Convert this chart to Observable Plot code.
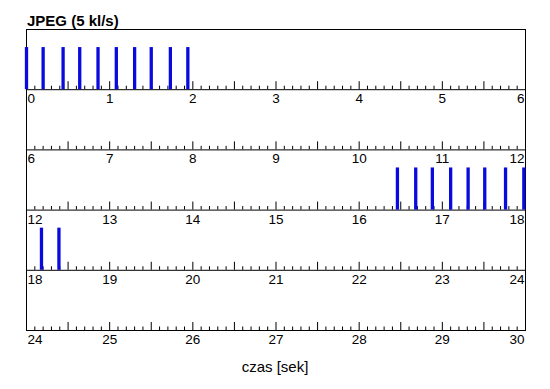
<!DOCTYPE html>
<html><head><meta charset="utf-8">
<script src="https://cdn.jsdelivr.net/npm/d3@7"></script>
<script src="https://cdn.jsdelivr.net/npm/@observablehq/plot@0.6"></script>
<style>
body{margin:0;background:#fff;}
#chart{width:550px;font-family:"Liberation Sans",Arial,sans-serif;color:#000;}
.title{height:28px;box-sizing:border-box;padding:12px 0 0 27px;font-weight:bold;font-size:15px;line-height:17px;white-space:nowrap;}
.xlabel{width:550px;text-align:center;padding-top:8px;font-size:15px;line-height:17px;}
</style></head><body>
<div id="chart">
  <div class="title">JPEG (5 kl/s)</div>
  <div id="plot"></div>
  <div class="xlabel">czas [sek]</div>
</div>
<script>
// frame arrival times (seconds)
const frameTimes = [0, 0.20, 0.44, 0.64, 0.86, 1.08, 1.30, 1.50, 1.73, 1.94,
  16.46, 16.68, 16.88, 17.10, 17.31, 17.51, 17.76, 17.98,
  18.18, 18.39];
// start second of each strip
const panelStarts = [0, 6, 12, 18, 24];
const panelSeconds = 6;
// second labels within a strip
const stripLabels = [0, 1, 2, 3, 4, 5, 6];

const BAR_H = 0.7, MAJOR_H = 8 / 60, MINOR_H = 3.5 / 60;

const bars = frameTimes.map(t => {
  const p = Math.floor(t / panelSeconds);
  return {p, x: t - panelStarts[p]};
});
const ticks = [];
panelStarts.forEach((s, p) => {
  for (let i = 0; i <= panelSeconds * 10; i++) ticks.push({p, x: i / 10, major: i % 5 === 0});
});
const labels = [];
panelStarts.forEach((s, p) => stripLabels.forEach(k => labels.push({p, x: k, text: String(s + k)})));
const first = labels.filter(d => d.x === stripLabels[0]);
const last = labels.filter(d => d.x === stripLabels[stripLabels.length - 1]);
const mid = labels.filter(d => d.x !== stripLabels[0] && d.x !== stripLabels[stripLabels.length - 1]);

const lab = {y: d => d.p + 1, lineAnchor: "top", dy: 4, fontSize: 13.5, fill: "#000", text: "text", x: "x"};

const chart = Plot.plot({
  width: 550, height: 322,
  marginTop: 1, marginBottom: 20, marginLeft: 26, marginRight: 25,
  style: {fontFamily: "'Liberation Sans', Arial, sans-serif", background: "#fff"},
  x: {domain: [0, panelSeconds], axis: null},
  y: {domain: [0, panelStarts.length], range: [1, 302], axis: null},
  marks: [
    Plot.ruleX(ticks, {x: "x", y1: d => d.p + 1, y2: d => d.p + 1 - (d.major ? MAJOR_H : MINOR_H), stroke: "#000", strokeWidth: 1}),
    Plot.ruleY(panelStarts.slice(1).map((s, i) => i + 1), {stroke: "#000", strokeWidth: 1}),
    Plot.frame({stroke: "#000", strokeWidth: 1}),
    Plot.ruleX(bars, {x: "x", y1: d => d.p + 1, y2: d => d.p + 1 - BAR_H, stroke: "#0a0ade", strokeWidth: 3.3}),
    Plot.text(first, {...lab, textAnchor: "start", dx: 1}),
    Plot.text(mid, {...lab, textAnchor: "middle"}),
    Plot.text(last, {...lab, textAnchor: "end", dx: -1})
  ]
});
document.getElementById("plot").appendChild(chart);
</script>
</body></html>
